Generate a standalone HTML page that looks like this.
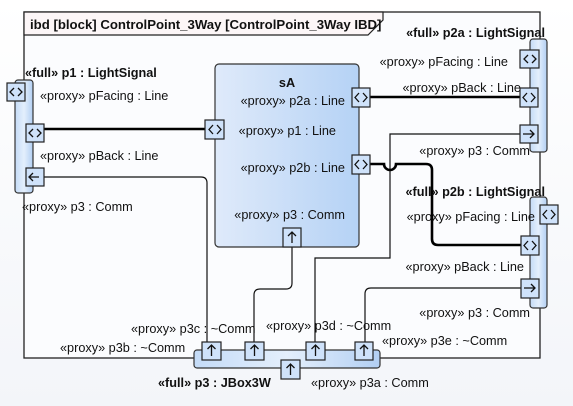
<!DOCTYPE html>
<html><head><meta charset="utf-8"><style>
html,body{margin:0;padding:0;width:573px;height:406px;overflow:hidden;background:#f7f8fb}
svg{display:block}
text{font-family:"Liberation Sans",sans-serif;font-size:12.7px;fill:#111}
.b{font-weight:bold}
.port{fill:#cfe2fa;stroke:#222;stroke-width:1.2}
.part{fill:url(#g2);stroke:#333;stroke-width:1.2}
.thin{fill:none;stroke:#111;stroke-width:1.2}
.thick{fill:none;stroke:#000;stroke-width:2.6}
.g{fill:none;stroke:#111;stroke-width:1.3}
</style></head><body>
<svg width="573" height="406" viewBox="0 0 573 406">
<defs>
<linearGradient id="g1" x1="0" x2="1"><stop offset="0" stop-color="#dfeafa"/><stop offset="1" stop-color="#b5d2f5"/></linearGradient>
<linearGradient id="g2" x1="0" x2="1"><stop offset="0" stop-color="#c4dbf7"/><stop offset="0.5" stop-color="#e4effc"/><stop offset="1" stop-color="#b2cff3"/></linearGradient>
<linearGradient id="bg" x1="0" y1="0" x2="0" y2="1"><stop offset="0" stop-color="#ffffff"/><stop offset="1" stop-color="#f3f5f9"/></linearGradient>
</defs>
<rect x="0" y="0" width="573" height="406" fill="url(#bg)"/>
<rect x="24" y="12" width="516" height="346" fill="#fbfcfe" stroke="#222" stroke-width="1.3"/>
<path d="M24 12 H383 V20 L368 35 H24 Z" fill="#fcf6f7" stroke="#222" stroke-width="1.2"/>
<text x="30" y="29" class="b" style="font-size:13.2px">ibd [block] ControlPoint_3Way [ControlPoint_3Way IBD]</text>

<path class="thin" d="M44 177 H201 Q207 177 207 183 V342"/>
<path class="thin" d="M292 247 V283 Q292 289 286 289 H260 Q254 289 254 295 V342"/>
<path class="thin" d="M520 134 H390 V258 H315 V342"/>
<path class="thin" d="M521 288 H371 Q365 288 365 294 V342"/>

<rect x="215" y="64" width="144" height="183" rx="4" fill="url(#g1)" stroke="#333" stroke-width="1.2"/>
<text x="287" y="87" class="b" text-anchor="middle">sA</text>
<text x="345" y="105" text-anchor="end">«proxy» p2a : Line</text>
<text x="336" y="135" text-anchor="end">«proxy» p1 : Line</text>
<text x="345" y="172" text-anchor="end">«proxy» p2b : Line</text>
<text x="345" y="219" text-anchor="end">«proxy» p3 : Comm</text>

<path class="thick" d="M44 129 H206"/>
<path class="thick" d="M370 97 H520"/>
<path class="thick" d="M370 164 H384 A6 6 0 0 0 396 164 H426 Q432 164 432 170 V239 Q432 245 438 245 H521"/>

<rect x="15" y="80" width="18" height="113" rx="3" class="part"/>
<text x="25" y="77" class="b">«full» p1 : LightSignal</text>
<text x="40" y="100">«proxy» pFacing : Line</text>
<text x="40" y="160">«proxy» pBack : Line</text>
<text x="22" y="211">«proxy» p3 : Comm</text>
<rect x="7" y="83" width="18" height="18" class="port"/><path class="g" d="M14 88 l-4 4 4 4 M18 88 l4 4 -4 4"/>
<rect x="26" y="124" width="18" height="18" class="port"/><path class="g" d="M33 129 l-4 4 4 4 M37 129 l4 4 -4 4"/>
<rect x="26" y="168" width="18" height="18" class="port"/><path class="g" d="M29 177 h10 M33 173 l-4 4 4 4"/>

<rect x="205" y="120" width="19" height="19" class="port"/><path class="g" d="M213 125 l-4 4.5 4 4.5 M217 125 l4 4.5 -4 4.5"/>
<rect x="352" y="88" width="18" height="19" class="port"/><path class="g" d="M359 93 l-4 4.5 4 4.5 M363 93 l4 4.5 -4 4.5"/>
<rect x="352" y="155" width="18" height="19" class="port"/><path class="g" d="M359 160 l-4 4.5 4 4.5 M363 160 l4 4.5 -4 4.5"/>
<rect x="283" y="228" width="18" height="19" class="port"/><path class="g" d="M292 243 v-11 M288 236 l4 -4 4 4"/>

<rect x="530" y="39" width="17" height="113" rx="3" class="part"/>
<text x="545" y="37" class="b" text-anchor="end">«full» p2a : LightSignal</text>
<text x="508" y="66" text-anchor="end">«proxy» pFacing : Line</text>
<text x="521" y="92" text-anchor="end">«proxy» pBack : Line</text>
<text x="530" y="155" text-anchor="end">«proxy» p3 : Comm</text>
<rect x="520" y="50" width="19" height="18" class="port"/><path class="g" d="M528 55 l-4 4 4 4 M532 55 l4 4 -4 4"/>
<rect x="520" y="88" width="18" height="19" class="port"/><path class="g" d="M527 93 l-4 4.5 4 4.5 M531 93 l4 4.5 -4 4.5"/>
<rect x="520" y="125" width="18" height="18" class="port"/><path class="g" d="M523 134 h11 M530 130 l4 4 -4 4"/>

<rect x="530" y="197" width="17" height="111" rx="3" class="part"/>
<text x="545" y="196" class="b" text-anchor="end">«full» p2b : LightSignal</text>
<text x="535" y="221" text-anchor="end">«proxy» pFacing : Line</text>
<text x="524" y="271" text-anchor="end">«proxy» pBack : Line</text>
<text x="530" y="317" text-anchor="end">«proxy» p3 : Comm</text>
<rect x="540" y="205" width="18" height="19" class="port"/><path class="g" d="M547 210 l-4 4.5 4 4.5 M551 210 l4 4.5 -4 4.5"/>
<rect x="521" y="236" width="18" height="19" class="port"/><path class="g" d="M528 241 l-4 4.5 4 4.5 M532 241 l4 4.5 -4 4.5"/>
<rect x="521" y="279" width="18" height="19" class="port"/><path class="g" d="M524 288 h11 M531 284 l4 4 -4 4"/>

<rect x="194" y="350" width="186" height="18" rx="3" class="part"/>
<rect x="202" y="342" width="19" height="18" class="port"/><path class="g" d="M211.5 356 v-11 M207.5 349 l4 -4 4 4"/>
<rect x="245" y="342" width="19" height="18" class="port"/><path class="g" d="M254.5 356 v-11 M250.5 349 l4 -4 4 4"/>
<rect x="306" y="342" width="19" height="18" class="port"/><path class="g" d="M315.5 356 v-11 M311.5 349 l4 -4 4 4"/>
<rect x="355" y="342" width="18" height="18" class="port"/><path class="g" d="M364 356 v-11 M360 349 l4 -4 4 4"/>
<rect x="281" y="360" width="19" height="19" class="port"/><path class="g" d="M290.5 375 v-11 M286.5 368 l4 -4 4 4"/>
<text x="131" y="333">«proxy» p3c : ~Comm</text>
<text x="266" y="330">«proxy» p3d : ~Comm</text>
<text x="60" y="352">«proxy» p3b : ~Comm</text>
<text x="382" y="345">«proxy» p3e : ~Comm</text>
<text x="158" y="387" class="b">«full» p3 : JBox3W</text>
<text x="311" y="387">«proxy» p3a : Comm</text>
</svg>
</body></html>
